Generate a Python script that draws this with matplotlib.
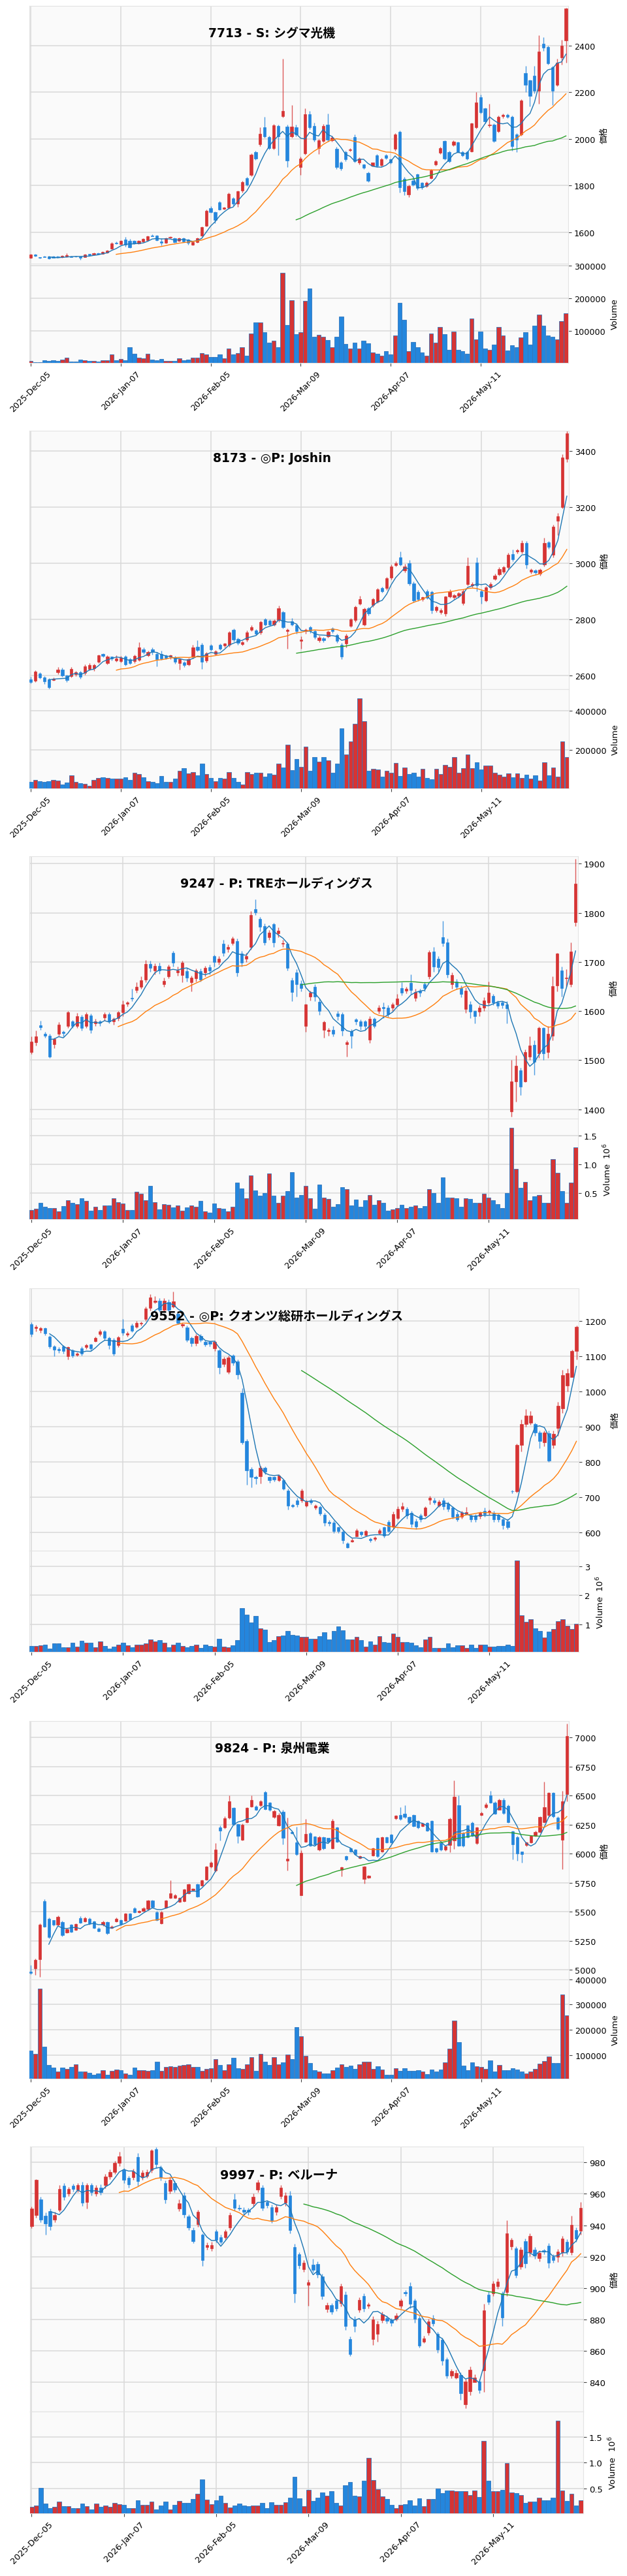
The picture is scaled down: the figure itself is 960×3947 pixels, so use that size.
import numpy as np
import pandas as pd
import matplotlib
matplotlib.use("Agg")
import matplotlib.pyplot as plt
from matplotlib.ticker import MultipleLocator, FuncFormatter

# ---------------- data ----------------
tick_labels = ["2025-Dec-05", "2026-Jan-07", "2026-Feb-05", "2026-Mar-09", "2026-Apr-07", "2026-May-11"]

titles = ["7713 - S: シグマ光機", "8173 - ◎P: Joshin", "9247 - P: TREホールディングス",
          "9552 - ◎P: クオンツ総研ホールディングス", "9824 - P: 泉州電業", "9997 - P: ベルーナ"]

# 7713
o1 = [1490,1504,1493,1497,1498,1498,1498,1494,1496,1498, 1498,1496,1495,1507,1505,1512,1509,1514,1530,1556,
      1551,1569,1563,1563,1552,1561,1568,1587,1586,1561, 1555,1577,1574,1563,1575,1569,1546,1558,1585,1628,
      1704,1687,1730,1700,1705,1745,1722,1778,1833,1845, 1943,1977,2050,2009,1962,2056,2098,2054,2012,2050,
      1880,1939,2105,2056,1962,1992,2062,1995,1957,1900, 1945,1952,2009,1898,1890,1855,1886,1930,1887,1930,
      1912,1957,2030,1830,1763,1822,1848,1812,1798,1833, 1892,1941,1992,1945,1974,1986,1945,1945,1948,2050,
      2180,2130,2058,2062,2033,2097,2103,2094,2019,2019, 2281,2250,2270,2206,2409,2393,2307,2232,2350,2421]
c1 = [1504,1500,1490,1495,1487,1492,1493,1499,1502,1495, 1496,1492,1505,1503,1512,1508,1516,1523,1554,1553,
      1565,1547,1535,1554,1565,1572,1583,1584,1566,1555, 1574,1580,1558,1575,1561,1555,1558,1575,1622,1693,
      1688,1652,1699,1706,1765,1722,1775,1816,1804,1933, 1916,2021,2012,1962,2058,2010,2121,1907,2053,2020,
      1916,2105,2050,1998,1995,2057,1998,2005,1880,1874, 1913,1956,1904,1915,1878,1822,1898,1886,1913,1919,
      1900,2020,1793,1775,1798,1804,1789,1792,1812,1866, 1904,1962,1916,1904,1990,1945,1930,1916,2066,2156,
      2115,2074,2062,1992,2094,2103,2094,1968,1998,2164, 2232,2185,2206,2374,2392,2325,2206,2326,2400,2559]
h1 = [1507,1507,1495,1499,1500,1500,1500,1501,1510,1500, 1500,1498,1507,1509,1514,1514,1518,1525,1557,1560,
      1568,1580,1572,1566,1568,1575,1586,1591,1589,1575, 1577,1583,1577,1578,1578,1572,1561,1578,1626,1698,
      1712,1690,1735,1710,1770,1750,1780,1820,1838,1938, 1950,2050,2095,2015,2065,2060,2345,2060,2145,2060,
      1925,2130,2120,2070,2000,2065,2110,2015,1965,1905, 1950,1960,2020,1922,1895,1860,1900,1935,1920,1935,
      1915,2025,2035,1838,1803,1828,1852,1815,1818,1870, 1910,1966,1995,1950,1995,1990,1950,1950,2070,2200,
      2190,2135,2150,2068,2100,2110,2108,2100,2025,2170, 2312,2255,2312,2445,2437,2400,2312,2345,2426,2562]
l1 = [1487,1498,1488,1493,1485,1490,1491,1492,1494,1493, 1494,1484,1493,1501,1503,1506,1507,1512,1528,1550,
      1548,1540,1532,1551,1550,1558,1565,1582,1563,1545, 1552,1575,1555,1560,1558,1548,1543,1555,1582,1625,
      1684,1640,1695,1697,1700,1716,1710,1772,1798,1840, 1910,1970,2005,1955,1955,1930,2092,1880,2005,2012,
      1845,1932,2043,1990,1935,1985,1990,1990,1870,1865, 1905,1948,1898,1890,1872,1815,1882,1880,1882,1912,
      1895,1950,1770,1760,1750,1798,1782,1785,1794,1828, 1886,1935,1910,1900,1970,1940,1925,1910,1945,2045,
      2108,2068,2050,1985,2028,2090,2088,1950,1945,2015, 2200,2140,2195,2150,2377,2318,2145,2225,2318,2326]
v1 = [7000,4000,4000,8500,6500,9000,6500,12000,17000,5000, 5000,12000,8500,7000,7000,6000,8500,8500,27000,8500,
      14000,8500,49000,29000,17000,15000,29000,12000,10000,14000, 6500,6500,8000,15000,10000,11000,18000,18000,32000,28000,
      19000,19000,27000,16000,46000,27000,31000,50000,23000,92000, 125000,125000,96000,63000,69000,50000,279000,118000,195000,90000,
      96000,193000,230000,82000,88000,81000,71000,50000,81000,143000, 60000,46000,64000,46000,69000,61000,34000,30000,24000,38000,
      28000,86000,187000,133000,38000,66000,50000,34000,24000,91000, 63000,112000,89000,42000,97000,42000,37000,30000,137000,73000,
      97000,46000,42000,57000,112000,86000,40000,56000,50000,79000, 96000,58000,115000,151000,116000,86000,81000,74000,129000,155000]

# 8173
o2 = [2587,2582,2608,2594,2588,2585,2612,2622,2600,2598, 2605,2612,2610,2625,2627,2650,2677,2645,2667,2654,
      2653,2667,2659,2651,2657,2694,2673,2694,2678,2677, 2671,2667,2666,2646,2647,2640,2667,2704,2711,2654,
      2707,2677,2709,2707,2709,2763,2731,2713,2728,2763, 2760,2753,2800,2796,2783,2797,2825,2758,2793,2780,
      2723,2758,2773,2758,2725,2733,2740,2768,2745,2711, 2714,2778,2797,2857,2783,2839,2852,2862,2911,2911,
      2948,2993,3020,2974,2999,2928,2898,2872,2901,2898, 2832,2825,2822,2881,2879,2884,2859,2926,2921,3002,
      2901,2867,2914,2944,2961,2970,2985,3032,3042,3042, 3071,2970,2975,2964,2995,3074,3030,3151,3200,3372]
c2 = [2577,2615,2595,2580,2560,2589,2622,2600,2585,2624, 2612,2597,2633,2637,2637,2672,2671,2667,2661,2661,
      2663,2641,2645,2671,2701,2684,2685,2684,2659,2661, 2664,2672,2649,2659,2639,2659,2701,2691,2649,2679,
      2694,2686,2697,2714,2753,2728,2717,2720,2755,2773, 2750,2790,2783,2783,2796,2839,2773,2763,2783,2758,
      2728,2763,2761,2738,2735,2725,2756,2758,2723,2667, 2743,2800,2845,2872,2837,2822,2872,2908,2901,2947,
      2988,3000,2995,2989,2928,2867,2872,2879,2876,2832, 2845,2834,2881,2901,2886,2894,2901,2990,2926,2921,
      2881,2914,2926,2956,2980,2985,3030,3015,3046,3071, 2995,2977,2968,2977,3071,3059,3130,3168,3375,3461]
h2 = [2597,2620,2612,2598,2592,2595,2630,2628,2604,2630, 2618,2616,2640,2645,2642,2676,2680,2672,2668,2672,
      2670,2672,2664,2676,2720,2700,2690,2700,2684,2690, 2674,2676,2670,2662,2652,2664,2710,2725,2716,2684,
      2712,2692,2714,2718,2758,2768,2736,2724,2760,2780, 2766,2795,2805,2800,2800,2848,2830,2768,2805,2786,
      2740,2768,2778,2764,2742,2737,2760,2772,2750,2716, 2750,2805,2850,2885,2842,2845,2876,2912,2916,2952,
      2995,3006,3042,2998,3012,2935,2904,2882,2906,2902, 2850,2840,2884,2906,2890,2899,2906,3022,2932,3022,
      2906,2918,2932,2962,2985,2990,3036,3048,3052,3082, 3078,2982,2980,2982,3090,3080,3136,3178,3388,3470]
l2 = [2573,2578,2590,2570,2552,2583,2605,2596,2578,2594, 2598,2590,2604,2620,2618,2645,2665,2640,2655,2650,
      2648,2636,2640,2646,2652,2678,2668,2676,2634,2656, 2660,2660,2642,2622,2630,2636,2662,2686,2625,2648,
      2688,2672,2692,2700,2703,2722,2710,2708,2722,2758, 2745,2748,2778,2778,2778,2790,2768,2697,2778,2750,
      2697,2750,2752,2730,2720,2720,2735,2752,2718,2660, 2700,2772,2792,2852,2778,2815,2845,2858,2895,2905,
      2942,2988,2990,2968,2920,2860,2865,2866,2872,2822, 2826,2818,2812,2876,2872,2878,2852,2920,2915,2900,
      2856,2862,2908,2940,2955,2964,2980,3008,3035,3035, 2982,2964,2958,2955,2988,3050,3022,3100,3195,3360]
v2 = [39000,49000,42000,38000,42000,49000,46000,24000,35000,73000, 38000,32000,30000,19000,49000,59000,62000,59000,55000,55000,
      55000,62000,49000,85000,78000,62000,42000,39000,32000,69000, 38000,38000,55000,93000,109000,82000,89000,73000,130000,78000,
      59000,42000,59000,55000,89000,59000,38000,24000,89000,78000, 86000,85000,66000,82000,76000,130000,112000,228000,99000,154000,
      116000,216000,96000,163000,142000,163000,146000,85000,132000,309000, 177000,245000,332000,463000,346000,96000,105000,100000,65000,93000,
      84000,135000,69000,112000,78000,84000,65000,105000,59000,51000, 103000,78000,123000,116000,163000,85000,107000,177000,108000,139000,
      100000,122000,122000,85000,76000,66000,80000,62000,80000,58000, 76000,55000,73000,45000,136000,73000,112000,65000,245000,163000]

# 9247
o3 = [1516,1537,1571,1554,1550,1532,1554,1558,1570,1579, 1570,1588,1570,1591,1575,1579,1587,1593,1579,1586,
      1597,1615,1627,1643,1649,1664,1696,1683,1692,1655, 1671,1718,1679,1673,1681,1658,1666,1681,1678,1689,
      1712,1700,1737,1726,1739,1743,1717,1707,1731,1807, 1788,1773,1751,1777,1758,1737,1737,1662,1679,1656,
      1570,1630,1650,1619,1562,1559,1562,1595,1593,1532, 1559,1583,1579,1579,1541,1584,1600,1608,1607,1607,
      1614,1647,1641,1657,1627,1641,1655,1671,1721,1707, 1750,1740,1655,1660,1647,1604,1613,1600,1599,1607,
      1618,1631,1618,1618,1614,1396,1456,1479,1457,1507, 1531,1514,1565,1517,1549,1652,1682,1667,1655,1781]
c3 = [1538,1548,1567,1550,1507,1543,1572,1555,1597,1570, 1590,1565,1593,1561,1579,1576,1593,1579,1584,1597,
      1613,1617,1625,1650,1662,1696,1688,1692,1683,1661, 1690,1699,1683,1699,1668,1668,1682,1664,1688,1682,
      1700,1707,1718,1731,1748,1678,1699,1712,1795,1801, 1771,1740,1760,1740,1764,1739,1688,1639,1654,1647,
      1613,1637,1630,1600,1577,1561,1554,1589,1560,1536, 1549,1579,1569,1569,1584,1570,1607,1606,1593,1613,
      1625,1638,1645,1643,1639,1638,1647,1720,1690,1689, 1739,1675,1673,1650,1635,1641,1599,1590,1607,1621,
      1637,1618,1611,1612,1605,1456,1488,1446,1517,1530, 1497,1565,1514,1553,1651,1717,1647,1668,1721,1859]
h3 = [1548,1560,1580,1557,1553,1546,1578,1560,1600,1582, 1596,1592,1597,1595,1584,1582,1598,1597,1587,1600,
      1622,1620,1645,1658,1670,1704,1702,1697,1698,1668, 1695,1722,1690,1703,1688,1672,1686,1687,1692,1694,
      1715,1712,1745,1736,1752,1748,1722,1718,1803,1828, 1792,1778,1765,1780,1770,1745,1740,1668,1685,1662,
      1615,1642,1655,1625,1580,1566,1570,1600,1598,1540, 1563,1586,1583,1582,1590,1587,1612,1618,1612,1618,
      1635,1658,1650,1675,1646,1645,1660,1724,1730,1712, 1784,1748,1678,1665,1652,1648,1620,1602,1612,1628,
      1660,1635,1622,1620,1620,1500,1510,1485,1522,1548, 1540,1568,1567,1570,1670,1718,1690,1685,1740,1910]
l3 = [1512,1530,1562,1545,1505,1525,1550,1548,1565,1566, 1565,1560,1565,1555,1570,1570,1580,1575,1572,1580,
      1590,1610,1620,1638,1645,1658,1680,1675,1676,1650, 1666,1690,1672,1658,1660,1640,1660,1660,1670,1675,
      1690,1695,1712,1720,1735,1670,1690,1700,1725,1795, 1762,1735,1745,1730,1750,1730,1682,1620,1630,1640,
      1558,1622,1620,1592,1545,1550,1548,1582,1550,1507, 1525,1572,1562,1562,1535,1565,1595,1585,1588,1600,
      1610,1632,1636,1635,1620,1630,1640,1665,1680,1680, 1732,1668,1645,1644,1628,1596,1585,1575,1590,1600,
      1612,1612,1605,1606,1575,1385,1415,1428,1455,1500, 1470,1505,1500,1505,1540,1640,1630,1650,1650,1773]
v3 = [210000,230000,330000,270000,250000,240000,190000,280000,380000,340000, 310000,410000,370000,200000,270000,210000,290000,290000,410000,350000,
      320000,210000,210000,530000,490000,380000,630000,350000,220000,310000, 300000,260000,290000,200000,260000,290000,270000,370000,190000,160000,
      320000,250000,230000,190000,270000,690000,580000,410000,810000,550000, 460000,500000,840000,460000,340000,460000,540000,860000,430000,470000,
      630000,410000,230000,650000,430000,400000,270000,310000,610000,570000, 290000,390000,270000,380000,470000,300000,380000,340000,200000,220000,
      240000,300000,240000,270000,290000,240000,280000,570000,500000,340000, 780000,420000,420000,410000,270000,410000,400000,330000,330000,490000,
      420000,380000,310000,250000,500000,1630000,920000,590000,700000,380000, 450000,470000,330000,340000,1090000,850000,540000,340000,690000,1300000]

# 9552
o4 = [1191,1180,1174,1180,1155,1127,1121,1127,1100,1117, 1104,1122,1125,1133,1143,1162,1170,1151,1147,1131,
      1178,1161,1187,1184,1192,1205,1237,1253,1258,1231, 1253,1241,1221,1186,1182,1151,1137,1158,1140,1140,
      1122,1117,1078,1056,1101,1085,996,860,780,758, 760,784,757,757,749,749,719,678,692,692,
      677,692,670,672,651,631,629,615,602,570, 574,590,602,594,582,582,598,615,631,617,
      641,668,667,656,633,649,649,693,692,677, 692,682,670,653,645,653,649,649,646,662,
      658,656,651,637,633,718,717,849,908,911, 907,884,856,882,849,897,952,1017,1041,1114]
c4 = [1162,1184,1180,1164,1127,1119,1117,1114,1125,1101, 1108,1107,1131,1122,1151,1170,1151,1131,1107,1153,
      1166,1165,1172,1194,1195,1235,1267,1258,1231,1258, 1231,1255,1194,1191,1147,1137,1158,1147,1133,1135,
      1140,1068,1092,1096,1082,1049,855,776,758,754, 784,773,748,750,761,725,676,675,680,719,
      688,686,676,654,629,627,604,604,578,558, 579,606,596,604,578,586,607,591,605,653,
      668,674,649,625,617,637,670,698,686,688, 675,668,645,638,657,658,638,638,656,653,
      662,638,638,621,615,717,849,907,931,931, 884,860,884,805,880,960,1046,1052,1114,1184]
h4 = [1196,1188,1184,1182,1160,1132,1125,1132,1128,1121, 1112,1127,1135,1136,1156,1175,1174,1155,1152,1158,
      1205,1170,1192,1200,1198,1240,1275,1270,1265,1264, 1260,1284,1225,1195,1186,1155,1162,1162,1145,1143,
      1145,1120,1098,1102,1106,1090,1010,865,785,762, 790,788,760,760,766,752,724,682,698,724,
      693,696,680,676,656,635,634,618,606,573, 584,612,605,608,586,590,612,618,636,660,
      675,686,672,662,640,655,675,704,698,694, 698,688,674,660,662,672,652,652,660,670,
      666,662,655,642,640,720,852,920,950,945, 912,890,890,890,890,970,1062,1065,1118,1186]
l4 = [1155,1170,1166,1160,1122,1100,1110,1108,1090,1096, 1100,1102,1120,1117,1140,1158,1147,1120,1102,1125,
      1160,1155,1168,1180,1186,1200,1230,1250,1225,1226, 1225,1236,1190,1182,1140,1128,1130,1140,1128,1128,
      1115,1050,1070,1050,1075,1035,850,735,728,738, 740,765,742,745,745,720,665,670,672,686,
      672,680,665,648,620,620,598,598,570,556, 572,590,590,590,572,576,595,585,600,612,
      637,660,640,615,610,630,645,680,680,672, 665,660,640,632,640,650,630,630,640,645,
      650,630,630,610,610,712,714,830,900,905, 875,840,845,800,840,875,940,1000,1080,1090]
v4 = [250000,250000,280000,290000,170000,340000,340000,200000,220000,370000, 230000,430000,360000,360000,220000,410000,250000,160000,230000,290000,
      360000,270000,200000,300000,300000,340000,470000,410000,450000,360000, 220000,290000,370000,250000,200000,250000,290000,180000,290000,250000,
      230000,500000,230000,220000,270000,450000,1560000,1330000,1070000,1280000, 860000,820000,400000,450000,590000,610000,780000,630000,610000,570000,
      570000,500000,500000,590000,730000,480000,770000,930000,800000,480000, 480000,570000,450000,230000,420000,290000,600000,390000,370000,690000,
      570000,400000,400000,360000,280000,220000,480000,580000,180000,180000, 190000,340000,210000,270000,270000,180000,310000,180000,300000,300000,
      230000,230000,250000,250000,300000,250000,3200000,1300000,1090000,1170000, 860000,770000,550000,750000,840000,1110000,1180000,960000,840000,1010000]

# 9824
o5 = [4983,5010,5091,5589,5441,5427,5386,5410,5321,5386, 5345,5446,5417,5441,5417,5357,5386,5410,5362,5417,
      5427,5422,5482,5530,5494,5506,5522,5594,5498,5398, 5537,5618,5618,5585,5589,5661,5685,5738,5728,5776,
      5889,5853,6224,6224,6308,6392,6255,6121,6272,6404, 6404,6416,6528,6440,6313,6241,6361,5937,6188,6097,
      5642,6104,6176,6145,6032,6140,6135,6044,6224,5858, 5978,6044,6032,5961,5781,5793,5985,6135,6016,6140,
      6164,6303,6332,6344,6313,6332,6284,6236,6265,6284, 6044,6092,6032,6073,6116,6416,6176,6241,6265,6092,
      6332,6399,6500,6440,6380,6464,6409,6193,6140,6016, 6073,6097,6152,6188,6272,6332,6524,6308,6121,6511]
c5 = [4971,5086,5386,5374,5283,5386,5458,5297,5350,5326, 5393,5403,5446,5398,5362,5333,5410,5314,5374,5441,
      5393,5482,5434,5494,5506,5530,5594,5541,5427,5498, 5594,5661,5642,5618,5690,5738,5697,5632,5769,5889,
      5925,6032,6200,6303,6452,6255,6152,6248,6392,6464, 6380,6452,6384,6375,6368,6332,6135,5956,6176,5996,
      6008,6169,6068,6080,6140,6044,6104,6284,6104,5882, 5949,6020,5996,5978,5889,5810,6044,5978,6140,6097,
      6097,6327,6296,6313,6272,6236,6224,6260,6200,6016, 6016,6032,6063,6301,6488,6068,6068,6140,6152,6224,
      6351,6423,6440,6344,6464,6351,6272,6080,6001,5997, 6097,6152,6188,6313,6399,6524,6320,6212,6452,7012]
h5 = [5041,5095,5400,5605,5450,5430,5465,5420,5360,5392, 5400,5460,5455,5450,5425,5365,5420,5418,5385,5450,
      5432,5490,5488,5540,5515,5540,5600,5600,5505,5505, 5600,5770,5650,5625,5700,5745,5705,5745,5775,5895,
      5935,6090,6240,6320,6500,6400,6262,6260,6400,6500, 6415,6460,6540,6445,6380,6350,6380,6308,6200,6230,
      6030,6300,6185,6150,6150,6148,6112,6300,6230,5890, 5982,6050,6038,5985,5895,5815,6050,6140,6148,6148,
      6170,6335,6400,6415,6320,6340,6290,6265,6270,6290, 6050,6100,6070,6310,6630,6500,6185,6250,6275,6230,
      6360,6440,6540,6450,6475,6480,6420,6200,6150,6020, 6100,6160,6195,6320,6620,6530,6530,6320,6540,7117]
l5 = [4960,4955,4938,5365,5270,5380,5380,5290,5315,5320, 5340,5398,5410,5390,5355,5325,5380,5305,5355,5410,
      5385,5415,5428,5488,5488,5500,5515,5535,5420,5395, 5530,5612,5612,5578,5585,5655,5680,5625,5720,5770,
      5880,5845,6116,6215,6300,6245,6092,6115,6265,6400, 6372,6408,6375,6368,6305,6235,6080,5853,6170,5985,
      5640,6095,6060,6070,6025,6035,6095,6040,6095,5805, 5940,6012,5988,5955,5743,5790,5978,5970,6010,6090,
      6090,6295,6290,6305,6265,6230,6215,6230,6190,6010, 6005,6025,6025,6010,6040,6060,6055,6135,6145,6080,
      6325,6390,6435,6340,6375,6340,6265,5950,5940,5920, 6065,6090,6145,6180,6265,6320,6310,6205,5865,6450]
v5 = [117000,104000,364000,133000,60000,50000,34000,50000,45000,53000, 63000,36000,36000,29000,23000,27000,39000,23000,38000,43000,
      41000,27000,23000,50000,39000,39000,37000,41000,73000,37000, 54000,55000,54000,57000,60000,64000,52000,53000,37000,45000,
      47000,85000,60000,41000,64000,88000,49000,46000,64000,92000, 37000,105000,74000,60000,92000,64000,71000,101000,85000,210000,
      175000,98000,69000,41000,35000,27000,27000,41000,51000,64000, 53000,59000,45000,64000,74000,73000,46000,56000,43000,23000,
      23000,48000,37000,48000,37000,38000,41000,34000,25000,43000, 35000,43000,72000,126000,236000,152000,59000,39000,70000,55000,
      53000,46000,80000,34000,60000,41000,41000,48000,42000,36000, 27000,34000,46000,66000,76000,95000,69000,69000,339000,256000]

# 9997
o6 = [939.5,946.6,956.4,946,949,943.6,950,965,960,965, 962.7,965.4,954.6,965.4,960,964,965.4,971,974,979.6,
      975,970,970.7,983.6,970.7,971.6,975.2,988.6,977,967, 961.8,967,950.7,959,945.7,937.1,940.7,934,926.1,925.2,
      935.9,932.3,932.3,938.6,956.4,951,950,949.6,953.8,962.7, 964,954.6,951.4,948.4,958.6,954.3,959.1,926.1,921.6,912.1,
      902,915,915.4,907.3,886.8,889,892,890.4,896,867.5, 880,886.4,894.8,888.6,867.5,870.7,879.6,881,879.6,880.5,
      888.9,897.5,901,892.1,881,866,871.6,881,870.7,867.1, 854.6,844.3,843,844.8,826,834.1,840,840.7,847.5,896,
      896.6,901.1,896.6,897.5,926.4,925.2,913.6,930,922.9,924.3, 918.9,924,927,919.8,919.8,922.9,929.3,922.9,937.1,936.4]
c6 = [950.5,968.9,943.6,941,939.5,946.6,963,958,963,963, 965.4,954.3,965.4,961,964,961,971,974,979.6,984,
      969,966,974.3,968,973.4,974,987.7,978.8,970.7,956.4, 969,962.7,953.8,947,938.6,930,948.4,918,927.5,927.5,
      930.5,929.6,935.9,946.6,951,950.7,948.4,948.4,958.2,967.1, 951,952.9,943,951.4,964,959.1,936.8,896.6,914.5,916.3,
      903.8,911.4,908.6,894.8,889,885,887,901.4,875.7,857.9, 875.7,892.5,887,889.5,880,877,883.2,879.3,877.9,882.3,
      892.1,896.6,890,880.5,863.2,868,878.8,877.5,860.9,853.8, 844.3,847.1,846,833.2,840.4,847.9,843,835,885.9,891.3,
      902.9,904.3,881.4,935,930.5,908.2,924.6,915.7,933.2,920.7, 922.5,923.4,916.3,918,923.4,931.4,923.4,940.4,931.4,951]
h6 = [952,969.5,958,948,950.5,948.5,965.5,967,964.5,966.5, 967,967.5,967,967,965.5,966,972.5,975.5,981,986.6,
      976.5,971.5,976,986,975,975.5,988.5,989.6,978,968.5, 971,968.5,956.5,961,947,938.5,950,935,929,929.5,
      937.5,934,937.5,948,960,953,951.5,951,960,968.8, 965.5,956,953,953,965.5,961,962,928,923,918,
      905.5,918.6,917,909,891,890.5,893.5,903,898,869, 882,894,896.5,891,882,879,885,882.5,881,884,
      893.5,898.5,903.8,893.5,882.5,869.5,880.5,883,872,868.5, 856,848.5,848,846.5,842,850,845,842,890,898,
      904.5,906,898,943,932,926.5,926,931.5,935,926, 924,925,928.5,921.5,925,933,931,946,938.5,954.7]
l6 = [938,945,942,934,937,942,948.5,956,958.5,961.5, 961,952.5,950.7,959,958.5,959.5,963.5,969.5,972.5,977.5,
      967,964,969,965,969,970,973.5,976.5,968.5,954, 960,961,949,945,937,928.5,939,914,924.5,923.5,
      929,928,931,937,949.5,949.5,946.5,946.5,952,961, 949.5,951,941.5,946.5,957,952.5,935,891,912.5,910.5,
      888.6,910,906.5,893,884.5,883.5,885.5,888.5,873.5,856.8, 872,884.5,885,887,864,866,878,877.5,876,879,
      887,895,887,878,862,865,870,876,859,851, 842.5,842.5,842,829,823.4,832,840.5,833,834,889.5,
      895,899.5,876,895,924.5,906.5,912,913,920.5,918.5, 917,921.5,913,916,916.5,920.5,921.5,921,929.5,934]
v6 = [150000,170000,510000,210000,120000,150000,250000,160000,160000,120000, 120000,210000,160000,100000,210000,150000,180000,150000,220000,200000,
      190000,130000,130000,280000,190000,190000,250000,100000,170000,250000, 100000,190000,260000,220000,220000,300000,400000,680000,290000,200000,
      270000,370000,230000,140000,180000,210000,170000,160000,170000,170000, 230000,130000,240000,190000,190000,240000,330000,730000,310000,160000,
      480000,260000,330000,430000,360000,450000,220000,170000,560000,630000, 360000,350000,650000,1090000,670000,490000,350000,300000,190000,120000,
      190000,200000,270000,180000,310000,160000,300000,300000,500000,410000, 470000,460000,450000,450000,450000,380000,470000,340000,1420000,650000,
      450000,450000,480000,990000,430000,420000,380000,230000,250000,250000, 330000,280000,280000,320000,1810000,460000,260000,400000,180000,280000]

# ---------------- drawing ----------------
plt.rcParams['font.family'] = ['DejaVu Sans', 'Noto Sans CJK JP']

W, H = 960, 3948
fig = plt.figure(figsize=(W / 100, H / 100), dpi=100)

panel_top = [0, 651, 1303, 1965, 2628, 3280]
panel_h = [651, 652, 662, 663, 652, 668]

UP, DOWN = '#d63434', '#2486dd'
GRID = '#d9d9d9'
FACE = '#fafafa'


def draw_panel(k, title, o, h, l, c, v, ylim, pstep, vstep, vfmt, vlabel):
    o, h, l, c, v = map(np.asarray, (o, h, l, c, v))
    s = panel_h[k] / 651
    t0 = panel_top[k]
    left, right = 44.5 * s, 870 * s
    top, mid, bot = t0 + 10 * s, t0 + 405 * s, t0 + 557 * s

    axp = fig.add_axes([left / W, 1 - mid / H, (right - left) / W, (mid - top) / H])
    axv = fig.add_axes([left / W, 1 - bot / H, (right - left) / W, (bot - mid) / H], sharex=axp)

    x = np.arange(len(c))
    col = np.where(c >= o, UP, DOWN)

    # candles
    axp.vlines(x, l, h, colors=col, linewidth=1.0 * s, alpha=0.8, zorder=2)
    axp.bar(x, np.abs(c - o), bottom=np.minimum(o, c), width=0.62, color=col,
            edgecolor=col, linewidth=0.5, zorder=3)

    # moving averages
    cs = pd.Series(c)
    for w, mc in zip((5, 20, 60), ('#1f77b4', '#ff7f0e', '#2ca02c')):
        axp.plot(x, cs.rolling(w).mean(), color=mc, lw=1.0 * s, zorder=4)

    # volume
    axv.bar(x, v, width=0.95, color=col, edgecolor='#3376ba', linewidth=0.6 * s, zorder=3)
    axv.set_ylim(0.3 * v.min(), 1.1 * v.max())

    axp.set_ylim(*ylim)
    axp.set_xlim(-0.38, 119.5)

    for ax in (axp, axv):
        ax.set_facecolor(FACE)
        ax.grid(True, color=GRID, lw=1.1 * s)
        ax.set_axisbelow(True)
        for sp in ax.spines.values():
            sp.set_color('#e3e3e3')
            sp.set_linewidth(0.8)
        ax.yaxis.tick_right()
        ax.yaxis.set_label_position('right')
        ax.tick_params(axis='y', labelsize=9.2 * s, length=3.5 * s, color='#444', pad=3 * s)

    axp.yaxis.set_major_locator(MultipleLocator(pstep))
    axv.yaxis.set_major_locator(MultipleLocator(vstep))
    if vfmt is not None:
        axv.yaxis.set_major_formatter(FuncFormatter(vfmt))

    axp.set_xticks(range(0, 101, 20))
    axp.tick_params(axis='x', bottom=False, labelbottom=False)
    axv.set_xticks(range(0, 101, 20))
    axv.set_xticklabels(tick_labels, rotation=45, fontsize=9.2 * s)
    axv.tick_params(axis='x', length=3.5 * s, color='#444')

    axp.set_ylabel('価格', fontsize=9.2 * s, labelpad=5 * s)
    axv.set_ylabel(vlabel, fontsize=9.2 * s, labelpad=5 * s)

    fig.text((left + 0.45 * (right - left)) / W, 1 - (t0 + 51 * s) / H, title,
             ha='center', va='center', fontsize=13.5 * s, fontweight='bold')


def fmt_m1(val, pos):
    return f'{val / 1e6:.1f}'


def fmt_m0(val, pos):
    return f'{val / 1e6:.0f}'


draw_panel(0, titles[0], o1, h1, l1, c1, v1, (1466, 2570), 200, 100000, None, 'Volume')
draw_panel(1, titles[1], o2, h2, l2, c2, v2, (2553, 3471), 200, 200000, None, 'Volume')
draw_panel(2, titles[2], o3, h3, l3, c3, v3, (1381, 1915), 100, 500000, fmt_m1, 'Volume  $10^{6}$')
draw_panel(3, titles[3], o4, h4, l4, c4, v4, (548, 1292), 100, 1000000, fmt_m0, 'Volume  $10^{6}$')
draw_panel(4, titles[4], o5, h5, l5, c5, v5, (4919, 7141), 250, 100000, None, 'Volume')
draw_panel(5, titles[5], o6, h6, l6, c6, v6, (821.6, 990), 20, 500000, fmt_m1, 'Volume  $10^{6}$')

fig.savefig('out.png', dpi=100)
